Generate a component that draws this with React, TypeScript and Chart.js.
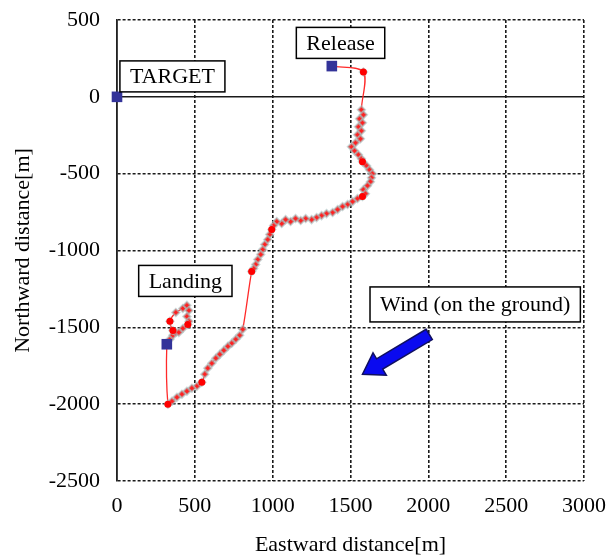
import React, { useEffect, useRef } from 'react';
import { Chart, registerables } from 'chart.js';

Chart.register(...registerables);

// ---- data ----
const tickStep = 500;
const xMin = 0;
const xMax = 3000;
const yMin = -2500;
const yMax = 500;

// flight trajectory (east, north) in metres
const pathEast = [
  1380, 1583, 1570, 1583, 1558, 1577, 1551, 1570, 1545, 1564, 1532, 1506, 1526, 1551, 1570, 1577, 1603, 1622, 1641,
  1635, 1628, 1609, 1583, 1596, 1577, 1545, 1513, 1481, 1449, 1417, 1385, 1346, 1314, 1282, 1250, 1212, 1180, 1147,
  1115, 1083, 1058, 1026, 1006, 994, 981, 968, 949, 936, 923, 904, 891, 878, 865, 808, 788, 763, 737, 712, 686, 660,
  635, 609, 583, 564, 545, 513, 481, 449, 417, 385, 353, 327, 320, 340, 359, 378, 359, 340, 378, 423, 449, 462, 449,
  462, 455, 423, 397,
];
const pathNorth = [
  200, 162, -84, -117, -143, -169, -195, -221, -247, -273, -299, -325, -351, -377, -403, -422, -448, -474, -500,
  -526, -552, -578, -604, -630, -649, -662, -682, -701, -714, -734, -753, -760, -773, -786, -799, -792, -805, -792,
  -812, -799, -825, -812, -838, -864, -896, -929, -961, -994, -1026, -1059, -1091, -1117, -1136, -1513, -1552, -1578,
  -1604, -1624, -1650, -1676, -1701, -1734, -1766, -1805, -1857, -1883, -1896, -1916, -1935, -1955, -1981, -2000,
  -1610, -1578, -1552, -1533, -1520, -1461, -1403, -1377, -1357, -1390, -1429, -1461, -1481, -1507, -1533,
];

// highlighted fixes along the track
const keyEast = [1583, 1577, 1577, 994, 865, 545, 327, 359, 340, 455];
const keyNorth = [162, -422, -649, -864, -1136, -1857, -2000, -1520, -1461, -1481];

// marked positions
const markerNames = ['TARGET', 'Release', 'Landing'];
const markerEast = [0, 1380, 320];
const markerNorth = [0, 200, -1610];

// text boxes (centre positions in data units)
const boxTexts = ['TARGET', 'Release', 'Landing', 'Wind (on the ground)'];
const boxEast = [356, 1436, 439, 2301];
const boxNorth = [133, 351, -1198, -1351];

// wind arrow (tail -> head) in data units
const windTail = [2006, -1546];
const windHead = [1577, -1805];

const FONT = '"Liberation Serif", "Times New Roman", serif';

const annotationPlugin = {
  id: 'annotations',
  afterDatasetsDraw(chart: any) {
    const { ctx } = chart;
    const xs = chart.scales.x;
    const ys = chart.scales.y;
    ctx.save();
    // wind arrow
    const tx = xs.getPixelForValue(windTail[0]);
    const ty = ys.getPixelForValue(windTail[1]);
    const hx = xs.getPixelForValue(windHead[0]);
    const hy = ys.getPixelForValue(windHead[1]);
    const dx = hx - tx;
    const dy = hy - ty;
    const len = Math.hypot(dx, dy);
    const ux = dx / len;
    const uy = dy / len;
    const nx = -uy;
    const ny = ux;
    const shaftW = 6;
    const headW = 13;
    const headL = 20;
    const bx = hx - ux * headL;
    const by = hy - uy * headL;
    ctx.beginPath();
    ctx.moveTo(tx + nx * shaftW, ty + ny * shaftW);
    ctx.lineTo(bx + nx * shaftW, by + ny * shaftW);
    ctx.lineTo(bx + nx * headW, by + ny * headW);
    ctx.lineTo(hx, hy);
    ctx.lineTo(bx - nx * headW, by - ny * headW);
    ctx.lineTo(bx - nx * shaftW, by - ny * shaftW);
    ctx.lineTo(tx - nx * shaftW, ty - ny * shaftW);
    ctx.closePath();
    ctx.fillStyle = '#0a0af0';
    ctx.fill();
    ctx.lineWidth = 1.5;
    ctx.strokeStyle = '#101060';
    ctx.stroke();

    // text boxes
    ctx.font = `22px ${FONT}`;
    ctx.textAlign = 'center';
    ctx.textBaseline = 'middle';
    boxTexts.forEach((t, i) => {
      const cx = xs.getPixelForValue(boxEast[i]);
      const cy = ys.getPixelForValue(boxNorth[i]);
      const w = ctx.measureText(t).width + 20;
      const h = i === 3 ? 35 : 31;
      ctx.fillStyle = '#ffffff';
      ctx.fillRect(cx - w / 2, cy - h / 2, w, h);
      ctx.lineWidth = 1.5;
      ctx.strokeStyle = '#000000';
      ctx.strokeRect(cx - w / 2, cy - h / 2, w, h);
      ctx.fillStyle = '#000000';
      ctx.fillText(t, cx, cy + 1);
    });
    ctx.restore();
  },
};

const dashFor = (c: any) => (c.tick && c.tick.value === 0 ? [] : [3, 2]);
const plain = (v: any) => String(v);

export default function App() {
  const ref = useRef<HTMLCanvasElement | null>(null);
  useEffect(() => {
    if (!ref.current) return;
    const chart = new Chart(ref.current, {
      type: 'scatter',
      data: {
        datasets: [
          {
            label: 'Markers',
            data: markerEast.map((x, i) => ({ x, y: markerNorth[i], name: markerNames[i] })),
            pointStyle: 'rect',
            pointRadius: 7.5,
            backgroundColor: '#333399',
            borderColor: '#333399',
            borderWidth: 0,
            showLine: false,
            clip: false,
            order: 0,
          },
          {
            label: 'Fixes',
            data: keyEast.map((x, i) => ({ x, y: keyNorth[i] })),
            pointStyle: 'circle',
            pointRadius: 3.5,
            backgroundColor: '#ff0000',
            borderColor: '#ff0000',
            borderWidth: 0,
            showLine: false,
            order: 1,
          },
          {
            label: 'Track',
            data: pathEast.map((x, i) => ({ x, y: pathNorth[i] })),
            showLine: true,
            tension: 0.3,
            borderColor: '#ff2a2a',
            borderWidth: 1.3,
            pointStyle: 'rectRot',
            pointRadius: 3.6,
            pointBackgroundColor: '#ff2020',
            pointBorderColor: 'rgba(165,188,188,0.6)',
            pointBorderWidth: 2,
            order: 2,
          },
        ],
      },
      options: {
        animation: false,
        responsive: true,
        maintainAspectRatio: false,
        layout: { padding: { top: 20, right: 21, bottom: 0, left: 0 } },
        plugins: { legend: { display: false }, tooltip: { enabled: false } },
        scales: {
          x: {
            type: 'linear',
            min: xMin,
            max: xMax,
            afterFit: (s: any) => {
              s.height = 75;
            },
            ticks: {
              stepSize: tickStep,
              callback: plain,
              color: '#000',
              font: { family: FONT, size: 22 },
              padding: 0,
              maxRotation: 0,
            },
            grid: { color: '#1a1a1a', lineWidth: 1.6, drawTicks: true, tickLength: 12, tickColor: 'rgba(0,0,0,0)' },
            border: { display: false, dash: dashFor },
            title: {
              display: true,
              text: 'Eastward distance[m]',
              color: '#000',
              font: { family: FONT, size: 22, lineHeight: 1 },
              padding: { top: 0, bottom: 0 },
            },
          },
          y: {
            type: 'linear',
            min: yMin,
            max: yMax,
            afterFit: (s: any) => {
              s.width = 117;
            },
            ticks: {
              stepSize: tickStep,
              callback: plain,
              color: '#000',
              font: { family: FONT, size: 22 },
              padding: 0,
            },
            grid: { color: '#1a1a1a', lineWidth: 1.6, drawTicks: true, tickLength: 17, tickColor: 'rgba(0,0,0,0)' },
            border: { display: true, color: '#222', width: 1.6, dash: dashFor },
            title: {
              display: true,
              text: 'Northward distance[m]',
              color: '#000',
              font: { family: FONT, size: 22, lineHeight: 1 },
              padding: { top: 12, bottom: 0 },
            },
          },
        },
      },
      plugins: [annotationPlugin],
    });
    return () => chart.destroy();
  }, []);
  return (
    <div style={{ position: 'fixed', left: 0, top: 0, width: 606, height: 556, background: '#fff' }}>
      <canvas ref={ref} />
    </div>
  );
}
